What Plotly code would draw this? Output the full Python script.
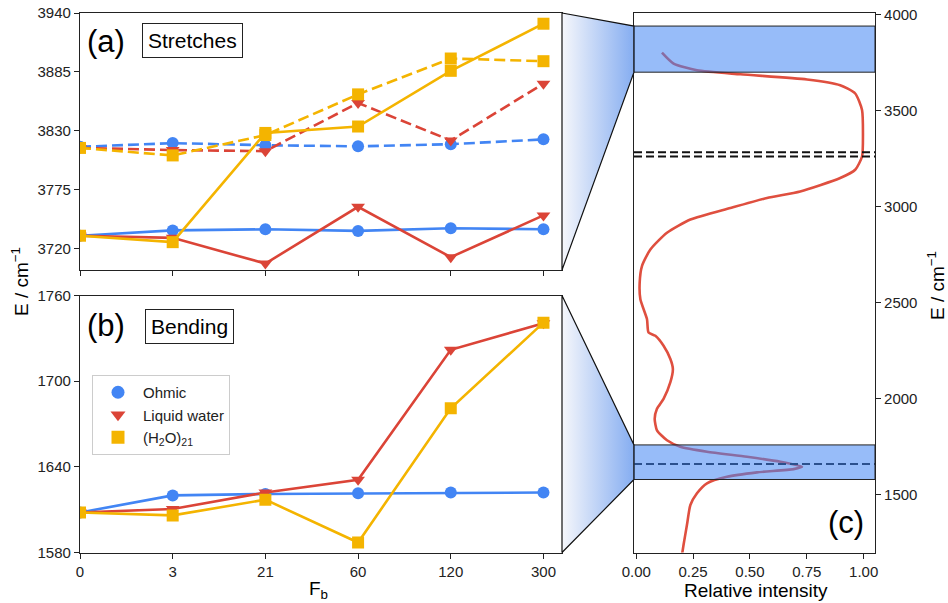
import plotly.graph_objects as go

# ---- data -------------------------------------------------------------
fb_labels = ["0", "3", "21", "60", "120", "300"]

# O-H stretching frequencies (cm^-1): lower / upper branch
ohmic_str_lo = [3732, 3737, 3738, 3736.5, 3739, 3738]
water_str_lo = [3732, 3730, 3706, 3759, 3712, 3751]
cluster_str_lo = [3732, 3726, 3828, 3834, 3886, 3930]
ohmic_str_hi = [3815, 3818.5, 3816.5, 3815.5, 3817.5, 3822]
water_str_hi = [3814, 3812, 3811, 3856, 3821, 3874]
cluster_str_hi = [3814, 3807, 3826, 3864, 3897.5, 3895]

# H-O-H bending frequencies (cm^-1)
ohmic_bend = [1608, 1620, 1621, 1621.5, 1622, 1622]
water_bend = [1608, 1610.5, 1622, 1631, 1722, 1740.5]
cluster_bend = [1608, 1606, 1617, 1587, 1681, 1741]

# IR spectrum of liquid water: energy (cm^-1) and relative intensity
spec_energy = [3802, 3745, 3710, 3689, 3662, 3632, 3589, 3503, 3382, 3261,
               3192, 3149, 3079, 3045, 2993, 2933, 2864, 2777, 2691, 2605,
               2518, 2415, 2345, 2328, 2276, 2207, 2155, 2087, 2000, 1948,
               1896, 1836, 1784, 1750, 1724, 1698, 1672, 1646, 1634, 1617,
               1594, 1560, 1508, 1447, 1344, 1240, 1180]
spec_intensity = [0.113, 0.164, 0.267, 0.458, 0.751, 0.897, 0.963, 0.993, 0.997, 0.993,
                  0.963, 0.897, 0.721, 0.575, 0.414, 0.238, 0.135, 0.062, 0.025, 0.015,
                  0.018, 0.047, 0.054, 0.084, 0.120, 0.150, 0.161, 0.150, 0.120, 0.091,
                  0.081, 0.091, 0.135, 0.194, 0.311, 0.487, 0.634, 0.729, 0.692, 0.531,
                  0.399, 0.311, 0.267, 0.238, 0.223, 0.208, 0.200]

# reference frequencies marked in the spectrum
ref_lines = [3283, 3261, 1661]

series_names = ["Ohmic", "Liquid water", "(H<sub>2</sub>O)<sub>21</sub>"]
series_colors = ["#4285F4", "#DB4437", "#F4B400"]
series_symbols = ["circle", "triangle-down", "square"]

stretch_range = [3700, 3940]
bend_range = [1580, 1760]
spec_range = [1200, 4008]
intens_range = [-0.01, 1.05]
x_range = [0, 5.2]

# ---- layout geometry (pixels) -------------------------------------------
W, H = 948, 603
A_X = (80, 562)
A_Y = (13, 270)
B_Y = (295.5, 552.5)
C_X = (634, 875)
C_Y = (13, 552.5)


def dom_x(p):
    return [p[0] / W, p[1] / W]


def dom_y(p):
    return [1 - p[1] / H, 1 - p[0] / H]


def c_ypix(e):
    return C_Y[0] + (spec_range[1] - e) / (spec_range[1] - spec_range[0]) * (C_Y[1] - C_Y[0])


FONT = "Liberation Sans, Arial, sans-serif"
AX_COLOR = "#222"
xpos = list(range(len(fb_labels)))

fig = go.Figure()

groups = [
    (ohmic_str_lo, ohmic_str_hi, ohmic_bend),
    (water_str_lo, water_str_hi, water_bend),
    (cluster_str_lo, cluster_str_hi, cluster_bend),
]
for (lo, hi, bend), color, sym in zip(groups, series_colors, series_symbols):
    mk = dict(color=color, symbol=sym, size=12, line=dict(width=0))
    fig.add_trace(go.Scatter(x=xpos, y=hi, mode="lines+markers", xaxis="x", yaxis="y",
                             line=dict(color=color, width=2.6, dash="11px,5px"),
                             marker=mk, showlegend=False))
    fig.add_trace(go.Scatter(x=xpos, y=lo, mode="lines+markers", xaxis="x", yaxis="y",
                             line=dict(color=color, width=2.6), marker=mk, showlegend=False))
    fig.add_trace(go.Scatter(x=xpos, y=bend, mode="lines+markers", xaxis="x2", yaxis="y2",
                             line=dict(color=color, width=2.6), marker=mk, showlegend=False))

for name, color, sym in zip(series_names, series_colors, series_symbols):
    fig.add_trace(go.Scatter(x=[None], y=[None], mode="markers", name=name, xaxis="x2", yaxis="y2",
                             marker=dict(color=color, symbol=sym, size=13, line=dict(width=0))))

# spectrum
fig.add_trace(go.Scatter(x=spec_intensity, y=spec_energy, mode="lines", xaxis="x3", yaxis="y3",
                         line=dict(color="#DF4F3F", width=2.6, shape="spline", smoothing=0.6),
                         showlegend=False))

# zoom connectors with horizontal gradient
grad = dict(type="horizontal", colorscale=[[0, "#f6f7fb"], [1, "#85adf1"]])
for rng, py in ((stretch_range, A_Y), (bend_range, B_Y)):
    xs = [A_X[1], C_X[0], C_X[0], A_X[1], A_X[1]]
    ys = [py[0], c_ypix(rng[1]), c_ypix(rng[0]), py[1], py[0]]
    fig.add_trace(go.Scatter(x=xs, y=ys, mode="lines", fill="toself", xaxis="x4", yaxis="y4",
                             fillgradient=grad, line=dict(color="#111", width=1.2),
                             showlegend=False, hoverinfo="skip"))

shapes = []
for e in ref_lines:
    shapes.append(dict(type="line", xref="x3 domain", yref="y3", x0=0, x1=1, y0=e, y1=e,
                       line=dict(color="#111", width=2, dash="8px,4px"), layer="above"))
for rng in (stretch_range, bend_range):
    shapes.append(dict(type="rect", xref="x3 domain", yref="y3", x0=0, x1=1, y0=rng[0], y1=rng[1],
                       fillcolor="rgba(66,133,244,0.55)", line=dict(color="#222", width=1),
                       layer="above"))

axis_common = dict(showline=True, linecolor=AX_COLOR, linewidth=1.2, mirror=True, ticks="outside",
                   ticklen=5, tickcolor=AX_COLOR, showgrid=False, zeroline=False, automargin=False,
                   tickfont=dict(family=FONT, size=15, color="#222"))

fig.update_layout(
    width=W, height=H, margin=dict(l=0, r=0, t=0, b=0, pad=0, autoexpand=False),
    paper_bgcolor="white", plot_bgcolor="rgba(0,0,0,0)",
    xaxis=dict(domain=dom_x(A_X), range=x_range, anchor="y", tickvals=xpos, ticktext=fb_labels,
               showticklabels=False, **axis_common),
    yaxis=dict(domain=dom_y(A_Y), range=stretch_range, anchor="x",
               tickvals=[3720, 3775, 3830, 3885, 3940], **axis_common),
    xaxis2=dict(domain=dom_x(A_X), range=x_range, anchor="y2", tickvals=xpos, ticktext=fb_labels,
                **axis_common),
    yaxis2=dict(domain=dom_y(B_Y), range=bend_range, anchor="x2",
                tickvals=[1580, 1640, 1700, 1760], **axis_common),
    xaxis3=dict(domain=dom_x(C_X), range=intens_range, anchor="y3",
                tickvals=[0, 0.25, 0.5, 0.75, 1.0], tickformat=".2f", **axis_common),
    yaxis3=dict(domain=dom_y(C_Y), range=spec_range, anchor="x3", side="right",
                tickvals=[1500, 2000, 2500, 3000, 3500, 4000], **axis_common),
    xaxis4=dict(domain=[0, 1], range=[0, W], visible=False, fixedrange=True),
    yaxis4=dict(domain=[0, 1], range=[H, 0], visible=False, fixedrange=True, anchor="x4"),
    shapes=shapes,
    showlegend=True,
    legend=dict(x=92 / W, y=1 - 375 / H, xanchor="left", yanchor="top",
                bgcolor="white", bordercolor="#cccccc", borderwidth=1, itemwidth=40,
                font=dict(family=FONT, size=15, color="#222")),
)


def note(text, px, py, size, **kw):
    fig.add_annotation(x=px / W, y=1 - py / H, xref="paper", yref="paper", text=text,
                       xanchor="center", yanchor="middle", showarrow=False,
                       font=dict(family=FONT, size=size, color="black"), **kw)


note("(a)", 106, 41, 31)
note("(b)", 106, 325, 31)
note("(c)", 846, 522, 31)
note("Stretches", 192.5, 40.5, 21, bordercolor="#222", borderwidth=1, borderpad=5, bgcolor="white")
note("Bending", 189, 326, 21, bordercolor="#222", borderwidth=1, borderpad=5, bgcolor="white")
note("E / cm<sup>\u22121</sup>", 20, 282, 19, textangle=-90)
note("E / cm<sup>\u22121</sup>", 936, 286, 19, textangle=-90)
note("F<sub>b</sub>", 318, 590, 19)
note("Relative intensity", 756, 590, 19)

fig.write_html("out.html")
